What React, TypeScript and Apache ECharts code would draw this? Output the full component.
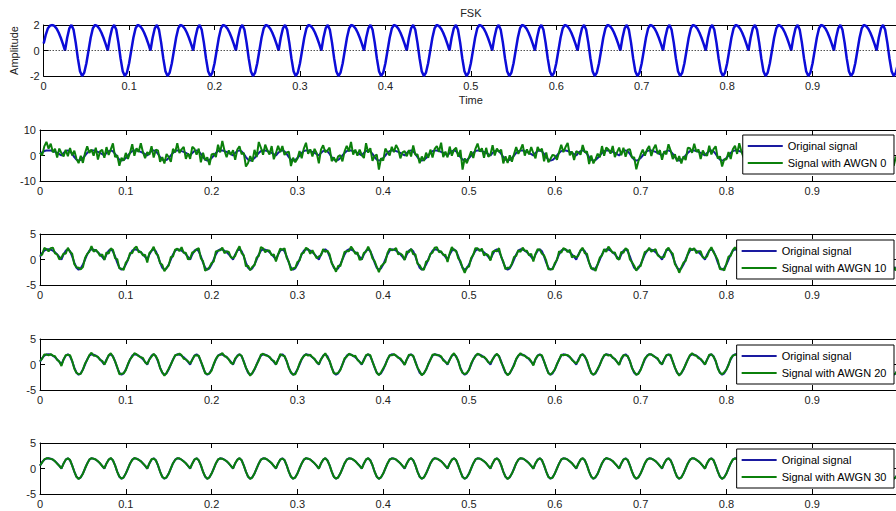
import { useEffect, useRef } from "react";
import * as echarts from "echarts";

// Sampling interval of the signals (s); the record spans 0..1 s.
const SAMPLE_STEP = 0.0025;

// FSK waveform: one row per 0.05 s period (20 samples), plus the last sample at t = 1.
const fskSignal = [
  0.55, 1.25, 1.75, 1.95, 2.0, 1.93, 1.73, 1.41, 1.0, 0.52, 0.0, 1.0, 1.73, 2.0, 1.62, 0.62, -0.62, -1.62, -2.0, -1.73,
  -1.0, 0.0, 1.0, 1.73, 2.0, 1.93, 1.73, 1.41, 1.0, 0.52, 0.0, 1.0, 1.73, 2.0, 1.62, 0.62, -0.62, -1.62, -2.0, -1.73,
  -1.0, 0.0, 1.0, 1.73, 2.0, 1.93, 1.73, 1.41, 1.0, 0.52, 0.0, 1.0, 1.73, 2.0, 1.62, 0.62, -0.62, -1.62, -2.0, -1.73,
  -1.0, 0.0, 1.0, 1.73, 2.0, 1.93, 1.73, 1.41, 1.0, 0.52, 0.0, 1.0, 1.73, 2.0, 1.62, 0.62, -0.62, -1.62, -2.0, -1.73,
  -1.0, 0.0, 1.0, 1.73, 2.0, 1.93, 1.73, 1.41, 1.0, 0.52, 0.0, 1.0, 1.73, 2.0, 1.62, 0.62, -0.62, -1.62, -2.0, -1.73,
  -1.0, 0.0, 1.0, 1.73, 2.0, 1.93, 1.73, 1.41, 1.0, 0.52, 0.0, 1.0, 1.73, 2.0, 1.62, 0.62, -0.62, -1.62, -2.0, -1.73,
  -1.0, 0.0, 1.0, 1.73, 2.0, 1.93, 1.73, 1.41, 1.0, 0.52, 0.0, 1.0, 1.73, 2.0, 1.62, 0.62, -0.62, -1.62, -2.0, -1.73,
  -1.0, 0.0, 1.0, 1.73, 2.0, 1.93, 1.73, 1.41, 1.0, 0.52, 0.0, 1.0, 1.73, 2.0, 1.62, 0.62, -0.62, -1.62, -2.0, -1.73,
  -1.0, 0.0, 1.0, 1.73, 2.0, 1.93, 1.73, 1.41, 1.0, 0.52, 0.0, 1.0, 1.73, 2.0, 1.62, 0.62, -0.62, -1.62, -2.0, -1.73,
  -1.0, 0.0, 1.0, 1.73, 2.0, 1.93, 1.73, 1.41, 1.0, 0.52, 0.0, 1.0, 1.73, 2.0, 1.62, 0.62, -0.62, -1.62, -2.0, -1.73,
  -1.0, 0.0, 1.0, 1.73, 2.0, 1.93, 1.73, 1.41, 1.0, 0.52, 0.0, 1.0, 1.73, 2.0, 1.62, 0.62, -0.62, -1.62, -2.0, -1.73,
  -1.0, 0.0, 1.0, 1.73, 2.0, 1.93, 1.73, 1.41, 1.0, 0.52, 0.0, 1.0, 1.73, 2.0, 1.62, 0.62, -0.62, -1.62, -2.0, -1.73,
  -1.0, 0.0, 1.0, 1.73, 2.0, 1.93, 1.73, 1.41, 1.0, 0.52, 0.0, 1.0, 1.73, 2.0, 1.62, 0.62, -0.62, -1.62, -2.0, -1.73,
  -1.0, 0.0, 1.0, 1.73, 2.0, 1.93, 1.73, 1.41, 1.0, 0.52, 0.0, 1.0, 1.73, 2.0, 1.62, 0.62, -0.62, -1.62, -2.0, -1.73,
  -1.0, 0.0, 1.0, 1.73, 2.0, 1.93, 1.73, 1.41, 1.0, 0.52, 0.0, 1.0, 1.73, 2.0, 1.62, 0.62, -0.62, -1.62, -2.0, -1.73,
  -1.0, 0.0, 1.0, 1.73, 2.0, 1.93, 1.73, 1.41, 1.0, 0.52, 0.0, 1.0, 1.73, 2.0, 1.62, 0.62, -0.62, -1.62, -2.0, -1.73,
  -1.0, 0.0, 1.0, 1.73, 2.0, 1.93, 1.73, 1.41, 1.0, 0.52, 0.0, 1.0, 1.73, 2.0, 1.62, 0.62, -0.62, -1.62, -2.0, -1.73,
  -1.0, 0.0, 1.0, 1.73, 2.0, 1.93, 1.73, 1.41, 1.0, 0.52, 0.0, 1.0, 1.73, 2.0, 1.62, 0.62, -0.62, -1.62, -2.0, -1.73,
  -1.0, 0.0, 1.0, 1.73, 2.0, 1.93, 1.73, 1.41, 1.0, 0.52, 0.0, 1.0, 1.73, 2.0, 1.62, 0.62, -0.62, -1.62, -2.0, -1.73,
  -1.0, 0.0, 1.0, 1.73, 2.0, 1.93, 1.73, 1.41, 1.0, 0.52, 0.0, 1.0, 1.73, 2.0, 1.62, 0.62, -0.62, -1.62, -2.0, -1.73,
  -1.0,
];

// Additive noise samples for each SNR level, aligned with fskSignal.
const awgn0Noise = [
  0.6, -1.2, 1.8, 3.4, 0.7, 2.7, -0.5, 1.2, -1.8, 2.2, 0.9, -1.4, 0.5, -2.3, 1.3, -0.6, 2.5, 0.3, -1.0, 1.6,
  -1.9, 1.0, 2.6, -0.7, 0.3, -2.0, 1.3, -3.0, 0.6, 1.7, -0.9, 2.3, -1.5, 0.4, 3.1, -1.2, 0.7, -2.4, 1.1, -0.3,
  2.0, -1.3, 0.2, 2.7, -2.1, 0.9, -0.4, 3.4, 0.3, -1.6, 1.3, -0.7, 1.9, -2.8, 0.6, 1.4, -1.9, 1.0, -1.1, 2.3,
  0.4, -2.5, 1.6, -0.6, 2.8, -1.0, 0.7, 2.0, -2.3, 0.3, -1.3, 2.4, 0.9, -1.7, 1.1, -3.3, 1.7, -0.2, 1.3, -2.0,
  1.4, 0.7, -1.6, 2.5, -0.8, 3.8, 0.2, -2.1, 1.0, -0.3, 2.1, -2.7, 0.6, 1.6, -1.1, 0.4, -3.7, -1.3, 1.8, -0.7,
  3.2, -0.6, 4.3, 1.3, -1.7, 2.3, 0.3, -1.0, 2.7, -2.0, 0.9, 2.8, -0.4, 1.7, -1.4, 0.6, 2.1, -2.5, 1.1, -0.9,
  -0.3, 1.8, -2.1, 1.0, 3.0, -1.3, 0.7, -1.8, 1.6, 0.4, -3.1, 1.3, 2.3, -0.7, 0.3, 2.5, -1.6, 0.9, -0.6, 1.4,
  1.1, -2.3, 0.6, 2.1, -0.4, 3.4, -1.4, 0.9, -1.1, 1.8, 0.2, -2.0, 3.1, -0.9, 1.3, -2.7, 0.4, 2.0, -3.5, 0.7,
  -1.0, 2.7, 0.3, -1.7, 1.4, -0.6, 2.4, 1.1, -2.1, 0.7, 1.7, -1.3, 0.4, -2.4, 2.3, -0.3, 1.0, -1.4, 1.6, -0.4,
  2.1, -0.9, 1.3, -2.5, 0.6, 1.8, -0.3, 3.6, -1.6, 1.0, -0.7, 2.5, -1.8, 0.3, 1.4, -1.1, 2.8, -3.9, 0.9, -1.3,
  0.3, 1.6, -2.0, 0.9, 2.7, -0.4, 1.1, -2.3, 2.0, -1.0, 0.4, 3.0, -1.7, 0.7, -0.2, 1.7, -2.5, 1.3, -0.9, 1.8,
  -1.4, 0.6, 2.3, -1.1, 0.3, 2.4, -1.8, 1.0, -0.6, 2.8, 0.9, -2.1, 1.6, -0.3, 1.1, -2.9, 1.8, -1.0, 0.7, 2.0,
  0.9, -1.7, 0.4, 2.5, -0.7, 1.4, 3.2, -1.3, 0.6, -2.3, 1.7, 0.2, -1.4, 2.1, -0.4, 1.0, -2.7, 1.6, -1.1, 0.3,
  1.7, -0.7, 2.7, -1.8, 1.1, 0.4, -1.0, 2.3, -1.6, 0.7, 3.1, -0.9, 1.3, -2.5, 0.6, 1.8, -0.3, 1.0, -3.4, -0.4,
  1.3, 2.3, -1.1, 0.6, 1.7, -2.1, 0.9, 2.8, -0.4, 1.6, -1.7, 0.7, -1.3, 2.4, 0.3, -2.0, 1.1, -0.7, 1.8, -1.4,
  0.7, -1.8, 2.0, 1.1, -0.9, 2.7, -0.3, 1.0, -2.4, 1.4, 0.4, -1.1, 2.1, -1.6, 0.9, 3.0, -0.6, 1.3, -2.3, 0.3,
  -0.6, 1.4, -2.4, 0.7, 1.8, -1.3, 3.1, 0.2, -1.7, 1.1, -0.4, 2.3, -1.0, 0.6, 1.6, -2.1, 0.9, -2.8, 1.3, -0.9,
  1.8, -0.3, 1.0, -2.0, 2.5, 0.6, -1.3, 1.7, -0.7, 2.8, -1.6, 0.9, 0.3, -2.3, 2.0, -0.4, 1.3, 2.1, -2.7, 0.4,
  -1.1, 0.9, 2.1, -1.4, 0.4, 2.4, -0.9, 1.3, -2.1, 0.6, 1.7, -0.3, 2.5, -1.3, 0.7, -1.8, 1.4, -0.6, 1.0, -1.7,
  1.0, 2.0, -0.7, 1.6, -1.8, 0.3, 2.7, -1.0, 0.9, -1.4, 1.8, 0.6, -2.3, 1.3, -0.3, 2.1, -1.1, 0.4, -2.0, 1.1,
  0.6,
];

const awgn10Noise = [
  0.2, -0.3, 0.5, 0.1, -0.4, 0.3, 0.6, -0.2, 0.0, -0.5, 0.4, 0.2, -0.6, 0.3, -0.1, 0.5, -0.3, 0.1, 0.4, -0.2,
  -0.5, 0.3, 0.1, -0.2, 0.6, -0.4, 0.2, 0.0, -0.3, 0.5, -0.1, 0.4, -0.6, 0.2, 0.3, -0.4, 0.7, -0.1, 0.2, -0.3,
  0.4, -0.1, 0.3, -0.5, 0.2, 0.6, -0.3, 0.1, -0.2, 0.4, -0.6, 0.3, 0.0, 0.5, -0.4, 0.2, -0.1, 0.6, -0.3, 0.1,
  -0.2, 0.5, -0.4, 0.2, 0.1, -0.3, 0.7, -0.1, 0.3, -0.5, 0.2, 0.4, -0.2, 0.0, 0.6, -0.4, 0.3, -0.6, 0.1, 0.2,
  0.3, -0.4, 0.6, 0.0, -0.2, 0.4, -0.5, 0.2, 0.5, -0.1, 0.3, -0.3, 0.1, 0.6, -0.4, 0.2, -0.7, 0.4, -0.1, 0.3,
  -0.1, 0.4, -0.3, 0.7, 0.2, -0.5, 0.1, 0.3, -0.2, 0.5, -0.4, 0.0, 0.4, -0.1, 0.6, -0.3, 0.2, -0.5, 0.3, 0.1,
  0.5, -0.2, 0.2, -0.4, 0.3, 0.1, -0.6, 0.4, 0.0, -0.3, 0.6, -0.2, 0.3, -0.5, 0.1, 0.4, -0.1, 0.2, -0.4, 0.5,
  -0.3, 0.1, 0.5, -0.1, -0.4, 0.6, 0.2, -0.3, 0.4, -0.6, 0.1, 0.3, -0.2, 0.5, 0.0, -0.4, 0.3, 0.2, -0.5, 0.4,
  0.1, -0.5, 0.3, 0.4, -0.2, 0.0, 0.5, -0.4, 0.2, 0.3, -0.1, 0.6, -0.3, 0.1, -0.6, 0.4, -0.2, 0.5, 0.1, -0.3,
  0.6, -0.2, 0.1, -0.4, 0.3, 0.5, -0.3, 0.2, -0.1, 0.4, -0.5, 0.2, 0.7, -0.2, 0.1, -0.4, 0.3, 0.0, -0.6, 0.2,
  -0.4, 0.3, -0.1, 0.5, 0.2, -0.3, 0.4, -0.6, 0.1, 0.3, -0.2, 0.5, 0.0, -0.4, 0.6, -0.1, 0.2, -0.3, 0.4, 0.1,
  0.2, 0.5, -0.3, 0.1, -0.5, 0.4, 0.0, 0.3, -0.2, 0.6, -0.4, 0.1, 0.3, -0.1, -0.5, 0.2, 0.4, -0.3, 0.1, -0.2,
  0.3, -0.1, 0.6, -0.4, 0.2, 0.1, -0.3, 0.5, -0.6, 0.2, 0.4, -0.2, 0.1, 0.3, -0.4, 0.5, 0.0, -0.2, 0.3, -0.5,
  0.1, 0.4, -0.2, 0.3, -0.5, 0.6, 0.2, -0.1, 0.4, -0.3, 0.0, 0.5, -0.4, 0.2, 0.3, -0.6, 0.1, 0.4, -0.2, 0.3,
  -0.3, 0.2, 0.5, -0.1, 0.3, -0.4, 0.1, 0.6, -0.2, 0.0, 0.4, -0.5, 0.2, 0.3, -0.1, 0.5, -0.3, 0.1, -0.6, 0.2,
  0.4, -0.3, 0.1, 0.5, -0.2, 0.3, -0.5, 0.2, 0.6, -0.1, 0.3, -0.4, 0.0, 0.4, -0.2, 0.1, 0.5, -0.3, 0.2, -0.4,
  0.2, 0.6, -0.3, 0.1, 0.4, -0.2, 0.3, -0.6, 0.1, 0.5, -0.1, 0.2, -0.4, 0.6, 0.0, -0.3, 0.4, -0.1, 0.3, -0.5,
  -0.1, 0.3, -0.4, 0.6, 0.1, -0.2, 0.5, 0.0, -0.5, 0.3, 0.2, -0.3, 0.4, -0.1, 0.5, -0.4, 0.2, 0.3, -0.2, 0.1,
  0.5, -0.4, 0.2, 0.0, 0.3, -0.5, 0.4, 0.1, -0.2, 0.6, -0.3, 0.2, -0.1, 0.4, -0.6, 0.3, 0.1, -0.4, 0.5, -0.1,
  -0.2, 0.4, 0.1, -0.3, 0.5, 0.2, -0.4, 0.3, -0.1, 0.6, 0.0, -0.5, 0.3, 0.2, -0.2, 0.4, -0.3, 0.1, 0.5, -0.4,
  0.2,
];

const awgn20Noise = [
  0.1, -0.1, 0.2, 0.0, -0.2, 0.1, 0.0, 0.2, -0.1, 0.1, -0.3, 0.0, 0.1, -0.1, 0.2, 0.1, -0.2, 0.0, 0.1, -0.1,
  0.0, 0.2, -0.1, 0.1, 0.3, -0.2, 0.0, 0.1, -0.1, 0.2, 0.0, -0.2, 0.1, 0.2, -0.1, 0.0, 0.1, -0.3, 0.2, 0.0,
  -0.1, 0.1, 0.0, -0.2, 0.2, 0.1, -0.1, 0.0, 0.3, -0.1, 0.1, 0.0, -0.2, 0.1, 0.0, 0.2, -0.1, 0.1, -0.2, 0.1,
  0.2, 0.0, -0.1, 0.1, -0.1, 0.2, 0.1, -0.3, 0.0, 0.1, 0.2, -0.1, 0.0, -0.2, 0.1, 0.0, 0.2, -0.1, 0.1, 0.0,
  -0.2, 0.1, 0.1, 0.0, -0.1, 0.3, -0.1, 0.1, 0.0, -0.2, 0.1, 0.2, -0.1, 0.0, 0.1, -0.1, 0.0, 0.2, -0.2, 0.1,
  0.1, 0.0, -0.2, 0.2, 0.1, -0.1, 0.0, 0.1, -0.1, 0.2, 0.0, -0.1, 0.3, -0.2, 0.0, 0.1, -0.1, 0.1, 0.0, -0.2,
  0.0, 0.2, 0.1, -0.1, 0.0, -0.2, 0.2, 0.0, 0.1, -0.1, 0.1, 0.0, -0.1, 0.2, -0.3, 0.1, 0.0, -0.1, 0.2, 0.1,
  -0.1, 0.0, 0.2, -0.2, 0.1, 0.0, -0.1, 0.3, -0.1, 0.0, 0.1, -0.2, 0.1, 0.0, 0.2, -0.1, 0.1, 0.0, -0.1, 0.2,
  0.2, -0.1, 0.0, 0.1, -0.2, 0.1, 0.0, -0.1, 0.2, 0.1, -0.1, 0.0, 0.2, -0.1, 0.1, -0.2, 0.0, 0.3, -0.1, 0.0,
  0.0, 0.1, -0.1, 0.2, 0.0, -0.1, 0.1, 0.2, -0.2, 0.0, 0.1, -0.1, 0.0, 0.2, -0.1, 0.1, -0.2, 0.0, 0.1, 0.1,
  -0.1, 0.2, 0.0, -0.1, 0.1, 0.0, -0.2, 0.1, 0.1, -0.1, 0.3, 0.0, -0.1, 0.1, 0.0, -0.2, 0.2, 0.1, -0.1, 0.0,
  0.1, -0.2, 0.1, 0.0, 0.2, -0.1, 0.0, -0.1, 0.2, 0.1, -0.2, 0.1, 0.0, -0.1, 0.2, 0.0, 0.1, -0.1, 0.0, 0.2,
  0.0, 0.1, -0.1, 0.2, -0.2, 0.0, 0.1, 0.1, -0.1, 0.0, 0.2, -0.3, 0.1, 0.0, -0.1, 0.2, 0.1, -0.1, 0.0, 0.1,
  0.2, -0.1, 0.0, 0.1, 0.0, -0.2, 0.2, -0.1, 0.1, 0.0, -0.1, 0.2, 0.1, -0.2, 0.0, 0.1, -0.1, 0.2, 0.0, -0.1,
  -0.1, 0.1, 0.2, -0.1, 0.0, 0.1, -0.1, 0.0, 0.2, -0.2, 0.1, 0.0, 0.1, -0.1, 0.3, -0.1, 0.0, 0.1, -0.2, 0.1,
  0.1, 0.0, -0.1, 0.1, 0.2, -0.1, 0.0, -0.2, 0.1, 0.1, 0.0, -0.1, 0.2, 0.0, -0.1, 0.1, -0.2, 0.0, 0.1, 0.2,
  0.0, -0.1, 0.2, 0.0, -0.1, 0.1, 0.2, -0.1, 0.0, 0.1, -0.2, 0.1, 0.0, 0.2, -0.1, 0.0, 0.1, -0.1, 0.2, -0.1,
  0.1, 0.2, -0.1, 0.0, 0.1, -0.2, 0.0, 0.1, -0.1, 0.2, 0.0, -0.1, 0.1, -0.2, 0.1, 0.0, 0.2, -0.1, 0.0, 0.1,
  -0.2, 0.0, 0.1, 0.2, -0.1, 0.0, 0.1, -0.1, 0.2, 0.0, -0.2, 0.1, 0.1, 0.0, -0.1, 0.2, -0.1, 0.0, 0.1, -0.1,
  0.1, -0.1, 0.0, 0.2, 0.1, -0.2, 0.1, 0.0, -0.1, 0.1, 0.2, -0.1, 0.0, 0.1, -0.1, 0.0, 0.2, -0.2, 0.1, 0.0,
  0.1,
];

const awgn30Noise = [
  0.03, -0.05, 0.02, 0.06, -0.01, -0.04, 0.05, 0.0, -0.06, 0.02, 0.04, -0.03, 0.01, -0.02, 0.07, -0.04, 0.03, 0.0, -0.05, 0.02,
  -0.02, 0.04, -0.06, 0.01, 0.03, -0.03, 0.05, -0.01, 0.02, -0.07, 0.04, 0.0, -0.03, 0.06, -0.02, 0.01, -0.04, 0.05, 0.02, -0.01,
  0.05, -0.02, 0.0, -0.04, 0.06, 0.01, -0.05, 0.03, -0.01, 0.04, -0.03, 0.02, 0.07, -0.06, 0.0, 0.03, -0.02, -0.04, 0.05, 0.01,
  -0.03, 0.02, 0.04, -0.05, 0.01, 0.06, -0.02, -0.04, 0.03, 0.0, 0.05, -0.06, 0.02, 0.01, -0.03, 0.04, -0.01, 0.06, -0.05, 0.02,
  0.01, -0.04, 0.03, 0.05, -0.02, 0.0, -0.06, 0.04, 0.02, -0.03, 0.01, 0.06, -0.04, 0.03, -0.01, -0.05, 0.02, 0.04, -0.02, 0.0,
  0.04, 0.01, -0.03, 0.02, -0.05, 0.06, 0.0, -0.02, 0.05, -0.04, 0.03, -0.01, 0.02, -0.06, 0.04, 0.01, -0.03, 0.05, 0.0, -0.04,
  -0.01, 0.05, -0.04, 0.0, 0.03, -0.02, 0.06, -0.05, 0.01, 0.04, -0.03, 0.02, -0.01, 0.05, -0.06, 0.03, 0.01, -0.02, 0.04, -0.03,
  0.02, -0.03, 0.06, -0.01, -0.04, 0.03, 0.01, 0.05, -0.06, 0.02, 0.0, -0.03, 0.04, 0.02, -0.05, 0.06, -0.02, 0.01, -0.04, 0.03,
  0.0, 0.04, -0.02, 0.03, -0.06, 0.01, 0.05, -0.03, 0.02, -0.01, 0.06, -0.04, 0.0, 0.03, -0.02, 0.05, -0.05, 0.02, 0.01, -0.03,
  0.06, -0.01, 0.02, -0.05, 0.04, 0.0, -0.03, 0.03, 0.01, -0.06, 0.05, 0.02, -0.04, 0.01, 0.03, -0.02, 0.04, -0.06, 0.0, 0.02,
  -0.04, 0.03, 0.0, 0.05, -0.02, 0.04, -0.05, 0.01, 0.06, -0.03, 0.02, -0.01, 0.04, -0.04, 0.0, 0.05, -0.03, 0.02, -0.06, 0.04,
  0.01, -0.06, 0.04, -0.02, 0.03, 0.05, -0.01, -0.04, 0.02, 0.0, -0.03, 0.06, -0.05, 0.02, 0.04, -0.01, 0.03, -0.02, 0.05, -0.04,
  0.03, 0.0, -0.05, 0.06, -0.03, 0.02, 0.01, -0.04, 0.05, -0.02, 0.03, -0.06, 0.01, 0.04, -0.01, 0.02, -0.05, 0.03, 0.0, 0.06,
  -0.05, 0.02, 0.03, -0.01, 0.05, -0.04, 0.0, 0.06, -0.02, 0.01, 0.04, -0.03, 0.02, -0.06, 0.05, 0.0, -0.02, 0.04, -0.01, 0.03,
  0.02, -0.03, 0.05, 0.01, -0.06, 0.03, -0.02, 0.04, 0.0, -0.05, 0.06, 0.01, -0.03, 0.02, -0.04, 0.05, 0.03, -0.01, 0.0, -0.02,
  0.04, 0.01, -0.02, -0.05, 0.03, 0.06, -0.04, 0.0, 0.02, -0.01, -0.03, 0.05, 0.01, -0.04, 0.03, -0.06, 0.02, 0.04, -0.03, 0.01,
  -0.02, 0.05, 0.0, 0.03, -0.04, -0.01, 0.02, 0.06, -0.05, 0.03, 0.01, -0.02, 0.04, 0.0, -0.06, 0.02, 0.05, -0.03, 0.01, -0.01,
  0.05, -0.04, 0.02, 0.0, 0.03, -0.06, 0.04, -0.01, 0.01, 0.05, -0.03, 0.0, -0.02, 0.06, 0.02, -0.05, 0.01, 0.03, -0.04, 0.02,
  -0.01, 0.03, -0.05, 0.04, 0.02, 0.0, -0.03, 0.05, -0.06, 0.01, 0.04, -0.02, 0.03, -0.01, 0.0, 0.06, -0.04, 0.02, 0.05, -0.03,
  0.03, -0.02, 0.01, -0.04, 0.06, 0.02, -0.05, 0.0, 0.04, -0.03, 0.01, 0.05, -0.06, 0.03, -0.01, 0.02, 0.04, -0.05, 0.0, 0.03,
  -0.02,
];

const snrLevels = [0, 10, 20, 30];
const noiseBySnr = [awgn0Noise, awgn10Noise, awgn20Noise, awgn30Noise];
const noisyYLimits = [10, 5, 5, 5];
const fskYLimit = 2;

const FONT = "'Liberation Sans', Arial, Helvetica, sans-serif";
const TEXT_COLOR = "#222";
const FSK_BLUE = "#0c0cd8";
const ORIG_BLUE = "#1a1aa0";
const NOISY_GREEN = "#0b800b";

const CHART_W = 906;
const CHART_H = 511;
const GRID_TOPS = [25, 130, 234, 339, 443];
const GRID_H = 51;
const GRID_LEFT = 40;
const GRID_RIGHT = 8;
const LEGEND_TOPS = [135, 240, 345, 449];

const times = fskSignal.map((_, i) => Number((i * SAMPLE_STEP).toFixed(4)));
const fskPoints = fskSignal.map((v, i) => [times[i], v]);
const noisyPoints = (noise: number[]) =>
  fskSignal.map((v, i) => [times[i], Number((v + (noise[i] ?? 0)).toFixed(3))]);

function buildOption() {
  const grids = GRID_TOPS.map((top) => ({
    left: GRID_LEFT,
    right: GRID_RIGHT,
    top,
    height: GRID_H,
  }));

  const axisLine = { show: true, onZero: false, lineStyle: { color: "#000", width: 1 } };
  const axisTick = { show: true, inside: true, length: 5, lineStyle: { color: "#000", width: 1 } };
  const labelStyle = { fontSize: 11, color: TEXT_COLOR, fontFamily: FONT };

  const xAxes: any[] = [];
  const yAxes: any[] = [];
  GRID_TOPS.forEach((_, g) => {
    xAxes.push({
      gridIndex: g,
      type: "value",
      position: "bottom",
      min: 0,
      max: 1,
      interval: 0.1,
      axisLine,
      axisTick,
      splitLine: { show: false },
      axisLabel: { ...labelStyle, margin: 4, showMaxLabel: false },
      name: g === 0 ? "Time" : "",
      nameLocation: "middle",
      nameGap: 18,
      nameTextStyle: labelStyle,
    });
    xAxes.push({
      gridIndex: g,
      type: "value",
      position: "top",
      min: 0,
      max: 1,
      interval: 0.1,
      axisLine,
      axisTick,
      splitLine: { show: false },
      axisLabel: { show: false },
      name: g === 0 ? "FSK" : "",
      nameLocation: "middle",
      nameGap: 7,
      nameTextStyle: labelStyle,
    });
    const lim = g === 0 ? fskYLimit : noisyYLimits[g - 1];
    yAxes.push({
      gridIndex: g,
      type: "value",
      position: "left",
      min: -lim,
      max: lim,
      interval: lim,
      axisLine,
      axisTick,
      splitLine: { show: false },
      axisLabel: { ...labelStyle, margin: 4 },
      name: g === 0 ? "Amplitude" : "",
      nameLocation: "middle",
      nameGap: 19,
      nameTextStyle: labelStyle,
    });
    yAxes.push({
      gridIndex: g,
      type: "value",
      position: "right",
      min: -lim,
      max: lim,
      interval: lim,
      axisLine,
      axisTick,
      splitLine: { show: false },
      axisLabel: { show: false },
    });
  });

  const series: any[] = [
    {
      name: "FSK",
      type: "line",
      xAxisIndex: 0,
      yAxisIndex: 0,
      data: fskPoints,
      symbol: "none",
      lineStyle: { color: FSK_BLUE, width: 2.5 },
      itemStyle: { color: FSK_BLUE },
      markLine: {
        silent: true,
        symbol: ["none", "none"],
        label: { show: false },
        lineStyle: { color: "#000", width: 1, type: [1, 2] },
        data: [{ yAxis: 0 }],
      },
    },
  ];

  snrLevels.forEach((snr, k) => {
    const g = k + 1;
    series.push({
      name: "Original signal",
      type: "line",
      xAxisIndex: 2 * g,
      yAxisIndex: 2 * g,
      data: fskPoints,
      symbol: "none",
      lineStyle: { color: ORIG_BLUE, width: 2 },
      itemStyle: { color: ORIG_BLUE },
    });
    series.push({
      name: `Signal with AWGN ${snr}`,
      type: "line",
      xAxisIndex: 2 * g,
      yAxisIndex: 2 * g,
      data: noisyPoints(noiseBySnr[k]),
      symbol: "none",
      lineStyle: { color: NOISY_GREEN, width: 2 },
      itemStyle: { color: NOISY_GREEN },
    });
  });

  const legends = snrLevels.map((snr, k) => ({
    orient: "vertical",
    top: LEGEND_TOPS[k],
    right: 12,
    data: ["Original signal", `Signal with AWGN ${snr}`],
    icon: "rect",
    backgroundColor: "#fff",
    borderColor: "#000",
    borderWidth: 1,
    borderRadius: 0,
    padding: [4, 7, 4, 5],
    itemGap: 3,
    itemWidth: 35,
    itemHeight: 2,
    selectedMode: false,
    textStyle: { fontSize: 11, color: "#000", fontFamily: FONT, lineHeight: 14 },
  }));

  return {
    animation: false,
    backgroundColor: "#fff",
    textStyle: { fontFamily: FONT },
    grid: grids,
    xAxis: xAxes,
    yAxis: yAxes,
    legend: legends,
    series,
  };
}

export default function App() {
  const ref = useRef<HTMLDivElement>(null);

  useEffect(() => {
    document.documentElement.style.overflow = "hidden";
    document.body.style.overflow = "hidden";
    document.body.style.margin = "0";
    if (!ref.current) return;
    const chart = echarts.init(ref.current, undefined, { renderer: "svg" });
    chart.setOption(buildOption() as any);
    return () => chart.dispose();
  }, []);

  return (
    <div
      ref={ref}
      style={{ position: "fixed", left: 0, top: 0, width: CHART_W, height: CHART_H, background: "#fff" }}
    />
  );
}
